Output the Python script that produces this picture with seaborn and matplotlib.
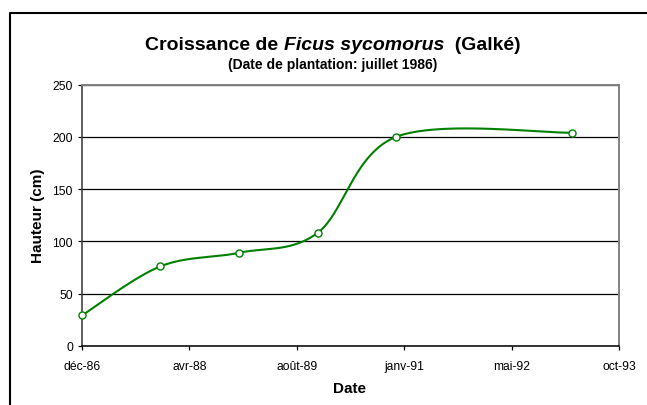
import numpy as np
import pandas as pd
import matplotlib
matplotlib.use("Agg")
import matplotlib.pyplot as plt
import matplotlib.dates as mdates
from matplotlib.lines import Line2D
import seaborn as sns

# Measurement dates and heights of Ficus sycomorus at Galké
dates = ["1986-12-01", "1987-12-01", "1988-12-01", "1989-12-01", "1990-12-01", "1993-03-01"]
heights = [29, 76, 89, 108, 200, 204]

# Axis ticks
x_start = "1986-12-01"
x_step_days = 500
x_tick_labels = ["déc-86", "avr-88", "août-89", "janv-91", "mai-92", "oct-93"]
y_ticks = [0, 50, 100, 150, 200, 250]

sns.set_theme(style="white")
plt.rcParams["font.family"] = ["Liberation Sans", "DejaVu Sans"]

W, H = 647, 406
fig = plt.figure(figsize=(W / 100, H / 100), dpi=100)
fig.patch.set_facecolor("white")


def px(x, y):
    """Pixel position (from top-left) to figure fraction."""
    return x / W, 1 - y / H


def smooth_curve(xs, ys, n=80):
    """Cubic Bezier smoothing through every point (Catmull-Rom style)."""
    pts = np.column_stack([xs, ys])
    ext = np.vstack([pts[0], pts, pts[-1]])
    t = np.linspace(0, 1, n)[:, None]
    segs = []
    for i in range(len(pts) - 1):
        p0, p1, p2, p3 = ext[i], ext[i + 1], ext[i + 2], ext[i + 3]
        c1 = p1 + (p2 - p0) / 6
        c2 = p2 - (p3 - p1) / 6
        seg = ((1 - t) ** 3) * p1 + 3 * ((1 - t) ** 2) * t * c1 \
            + 3 * (1 - t) * (t ** 2) * c2 + (t ** 3) * p2
        segs.append(seg if i == 0 else seg[1:])
    return np.vstack(segs)


x_num = mdates.date2num(pd.to_datetime(dates))
df = pd.DataFrame({"date": x_num, "hauteur": heights})
curve = smooth_curve(df["date"].to_numpy(float), df["hauteur"].to_numpy(float))
df_curve = pd.DataFrame(curve, columns=["date", "hauteur"])

left, right, top, bottom = 82, 619.3, 85.7, 346.7
ax = fig.add_axes([left / W, 1 - bottom / H, (right - left) / W, (bottom - top) / H])
ax.set_facecolor("white")

sns.lineplot(data=df_curve, x="date", y="hauteur", ax=ax, sort=False,
             estimator=None, color="#008000", linewidth=1.5, zorder=3)
sns.scatterplot(data=df, x="date", y="hauteur", ax=ax, marker="o", s=26,
                facecolor="white", edgecolor="#008000", linewidth=1.0,
                zorder=4, clip_on=False)

x0 = mdates.date2num(pd.Timestamp(x_start))
x_ticks = [x0 + k * x_step_days for k in range(len(x_tick_labels))]
ax.set_xlim(x_ticks[0], x_ticks[-1])
ax.set_xticks(x_ticks)
ax.set_xticklabels(x_tick_labels)
ax.set_ylim(y_ticks[0], y_ticks[-1])
ax.set_yticks(y_ticks)
ax.set_yticklabels([str(v) for v in y_ticks])

ax.yaxis.grid(True, color="black", linewidth=0.9)
ax.xaxis.grid(False)
ax.set_axisbelow(True)

ax.tick_params(axis="both", which="major", direction="out", length=3,
               width=0.9, color="black", labelsize=8.7, labelcolor="black")
ax.tick_params(axis="x", bottom=True, pad=7)
ax.tick_params(axis="y", left=True, pad=3.5)

for side in ("top", "right"):
    ax.spines[side].set_color("#808080")
    ax.spines[side].set_linewidth(1.4)
ax.spines["left"].set_color("#333333")
ax.spines["left"].set_linewidth(1.1)
ax.spines["bottom"].set_color("black")
ax.spines["bottom"].set_linewidth(1.1)

ax.set_xlabel("")
ax.set_ylabel("")
fig.text(*px(38, 216), "Hauteur (cm)", rotation=90, ha="center", va="center",
         fontsize=11, fontweight="bold", color="black")
fig.text(*px(350, 389), "Date", ha="center", va="center",
         fontsize=11, fontweight="bold", color="black")

# Title with the species name in italics, centred as one line
renderer = fig.canvas.get_renderer()
parts = [("Croissance de ", "normal"), ("Ficus sycomorus", "italic"), ("  (Galké)", "normal")]
title_size = 14
title_cx, title_base = 333, 50
texts = []
for s, style in parts:
    t = fig.text(0, 0, s, fontsize=title_size, fontweight="bold", fontstyle=style,
                 ha="left", va="baseline", color="black")
    texts.append(t)
widths = [t.get_window_extent(renderer).width for t in texts]
xcur = title_cx - sum(widths) / 2
for t, w in zip(texts, widths):
    t.set_position(px(xcur, title_base))
    xcur += w

fig.text(*px(title_cx, 68.5), "(Date de plantation: juillet 1986)", ha="center",
         va="baseline", fontsize=10, fontweight="bold", color="black")

# Chart-area frame (left and top edges)
bx, by = 10, 14
fig.add_artist(Line2D([bx / W, bx / W, 1.01], [-0.01, 1 - by / H, 1 - by / H],
                      transform=fig.transFigure, color="black", linewidth=1.5))

fig.savefig("out.png", dpi=100, facecolor="white")
